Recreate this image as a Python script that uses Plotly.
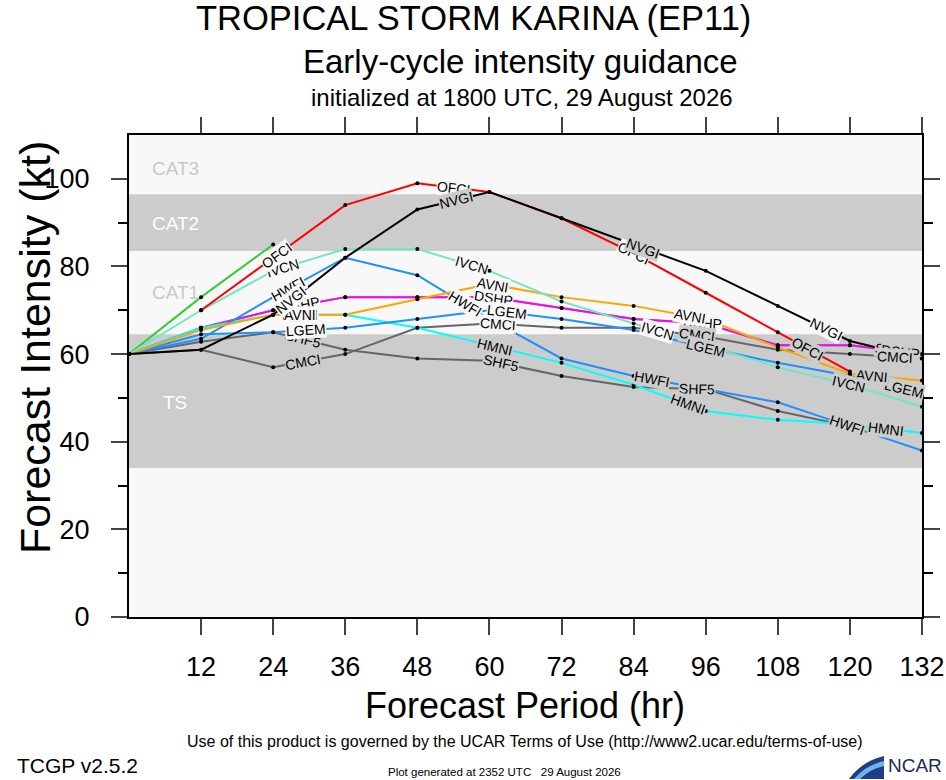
import numpy as np
import plotly.graph_objects as go

# FORECAST HOURS AND MODEL INTENSITIES (kt)
hours = [0, 12, 24, 36, 48, 60, 72, 84, 96, 108, 120, 132]

ofcl = [60, 73, 85, None, None, None, None, None, None, None, None, None]
ship = [60, 66, 70, 73, 73, 73, 70.5, 68, 67, 62, 62, 60]
dshp = [60, 66, 70, 73, 73, 73, 70.5, 68, 67, 62, 62, 60]
shf5 = [60, 62.8, 65, 61, 59, 58.5, 55, 52.5, 52, 47, 43.5, None]
cmci = [60, 61, 57, 60, 66, 67, 66, 66, 64, 61, 60, 59]
hmni = [60, 66, 69, 69, 66, 62, 58, 53, 47, 45, 44, 42]
lgem = [60, 64.5, 65, 66, 68, 70, 68, 65.5, 61.5, 58, 55, 51]
hwfi = [60, 63.5, 73, 82, 78, 68, 59, 55, 52, 49, 43.5, 38]
avni = [60, 65.5, 69, 69, 72.5, 76, 73, 71, 68, 61.5, 55.5, 54]
ivcn = [60, 70, 79, 84, 84, 79, 72, 67, 62, 57, 53, 48]
ofci = [None, 70, 82, 94, 99, 97, 91, 83, 74, 65, 56, None]
nvgi = [60, 61, 69, 82, 93, 97, 91, 85, 79, 71, 63, 59]

x_ticks = [12, 24, 36, 48, 60, 72, 84, 96, 108, 120, 132]
y_ticks = [0, 20, 40, 60, 80, 100]

# name, values, colour, hours where the line label sits
series = [
    ("OFCL", ofcl, "#32cd32", []),
    ("SHIP", ship, "#32cd32", [28.5, 61, 95, 127]),
    ("DSHP", dshp, "#ff00ff", [28.5, 60.6, 95.5, 128.5]),
    ("SHF5", shf5, "#666666", [29, 62, 94.5]),
    ("CMCI", cmci, "#666666", [29, 61.5, 94.5, 127.5]),
    ("HMNI", hmni, "#00ffff", [28.5, 61, 93, 126]),
    ("LGEM", lgem, "#1e90ff", [29.5, 63, 96, 129]),
    ("HWFI", hwfi, "#1e90ff", [26.5, 56, 87, 119.5]),
    ("AVNI", avni, "#ffa500", [28.5, 60.6, 93.4, 123.6]),
    ("IVCN", ivcn, "#73e6c3", [25.6, 57, 88, 119.7]),
    ("OFCI", ofci, "#ff0000", [24.5, 54, 84, 113]),
    ("NVGI", nvgi, "#000000", [27, 54.5, 85.5, 116]),
]

LIGHT = "#f8f8f8"
DARK = "#cccccc"
# px per unit, used only for label rotation
PX_X = 793 / 132
PX_Y = 482 / 110


def band_color(v):
    if 34 <= v < 64.5 or 83.5 <= v < 96.5:
        return DARK
    return LIGHT


def note(x, y, text, size, **kw):
    fig.add_annotation(x=x, y=y, xref="paper", yref="paper", text=text, showarrow=False,
                       xanchor=kw.pop("xanchor", "center"), yanchor="middle",
                       font=dict(size=size, family=kw.pop("family", None),
                                 color=kw.pop("color", "black")), **kw)


def px(xp, yp):
    # page pixel -> paper coords of the plot box
    return "%.4f,%.4f" % ((xp - 129) / 793, (617 - yp) / 482)


fig = go.Figure()

# intensity category bands
for y0, y1 in [(34, 64.5), (83.5, 96.5)]:
    fig.add_shape(type="rect", xref="x", yref="y", x0=0, x1=132, y0=y0, y1=y1,
                  fillcolor=DARK, line_width=0, layer="below")

for name, vals, col, lab in series:
    fig.add_trace(go.Scatter(x=hours, y=vals, mode="lines", name=name,
                             line=dict(color=col, width=2), showlegend=False,
                             hoverinfo="skip"))

for name, vals, col, lab in series:
    fig.add_trace(go.Scatter(x=hours, y=vals, mode="markers", name=name,
                             marker=dict(color="black", size=4), showlegend=False,
                             hoverinfo="skip"))

# line labels along each track
for name, vals, col, lab in series:
    hx = np.array([h for h, v in zip(hours, vals) if v is not None], float)
    hv = np.array([v for v in vals if v is not None], float)
    for h in lab:
        v = float(np.interp(h, hx, hv))
        i = min(max(np.searchsorted(hx, h) - 1, 0), len(hx) - 2)
        dy = (hv[i + 1] - hv[i]) * PX_Y
        dx = (hx[i + 1] - hx[i]) * PX_X
        ang = -np.degrees(np.arctan2(dy, dx))
        fig.add_annotation(x=h, y=v, xref="x", yref="y", text=name, showarrow=False,
                           xanchor="center", yanchor="middle",
                           textangle=ang, font=dict(size=14, color="black"),
                           bgcolor=band_color(v), borderpad=0)

# band names
for txt, yy, c in [("CAT3", 102.3, "#c8c8c8"), ("CAT2", 89.8, "white"),
                   ("CAT1", 74.1, "#c8c8c8"), ("TS", 48.9, "white")]:
    fig.add_annotation(x=7.7, y=yy, xref="x", yref="y", text=txt, showarrow=False,
                       xanchor="center", yanchor="middle", font=dict(size=19, color=c))

# titles
note(0.4338, 1.2427, "TROPICAL STORM KARINA (EP11)", 34.5)
note(0.494, 1.1515, "Early-cycle intensity guidance", 33)
note(0.4956, 1.0788, "initialized at 1800 UTC, 29 August 2026", 24)
note(-0.1185, 0.558, "Forecast Intensity (kt)", 43, textangle=-90)
note(0.4994, -0.1846, "Forecast Period (hr)", 36)

# footer
narrow = "Liberation Sans Narrow, Liberation Sans, Arial"
note(0.4994, -0.2593,
     "Use of this product is governed by the UCAR Terms of Use (http://www2.ucar.edu/terms-of-use)",
     16, family=narrow)
note(-0.1438, -0.3091, "TCGP v2.5.2", 21, family=narrow, xanchor="left")
note(0.4741, -0.3216, "Plot generated at 2352 UTC   29 August 2026", 11.5, family=narrow)
note((886 - 129) / 793, -0.3085, "NCAR", 19, family=narrow, color="#1b2a5e",
     xanchor="left")
# NCAR swoosh
fig.add_shape(type="path", xref="paper", yref="paper",
              path="M " + px(849, 779) + " Q " + px(862, 761) + " " + px(884, 756)
                   + " L " + px(884, 779) + " Z",
              fillcolor="#1b3f8a", line_width=0)
fig.add_shape(type="path", xref="paper", yref="paper",
              path="M " + px(854, 779) + " Q " + px(866, 765) + " " + px(884, 761)
                   + " L " + px(884, 766) + " Q " + px(870, 769) + " " + px(860, 779) + " Z",
              fillcolor="#6fb3ea", line_width=0)

fig.update_layout(
    width=946, height=780, autosize=False,
    margin=dict(l=129, r=24, t=135, b=163, autoexpand=False),
    paper_bgcolor="white", plot_bgcolor=LIGHT,
    font=dict(family="Liberation Sans, Arial", color="black"),
    showlegend=False,
)
fig.update_xaxes(range=[0, 132], tickvals=x_ticks, ticks="outside", ticklen=16, tickwidth=2,
                 showline=True, linecolor="black", linewidth=2, mirror="ticks",
                 showgrid=False, zeroline=False, tickfont=dict(size=27),
                 ticklabelstandoff=9, automargin=False)
fig.update_yaxes(range=[0, 110], tickvals=y_ticks, ticks="outside", ticklen=16, tickwidth=2,
                 showline=True, linecolor="black", linewidth=2, mirror="ticks",
                 showgrid=False, zeroline=False, tickfont=dict(size=27),
                 ticklabelstandoff=16, automargin=False,
                 minor=dict(tickvals=[10, 30, 50, 70, 90], ticks="outside", ticklen=9,
                            tickwidth=2, tickcolor="black"))

fig.write_html(
    "out.html",
    config={"displayModeBar": False, "responsive": False},
    post_script="document.body.style.margin='0';document.body.style.overflow='hidden';",
)
